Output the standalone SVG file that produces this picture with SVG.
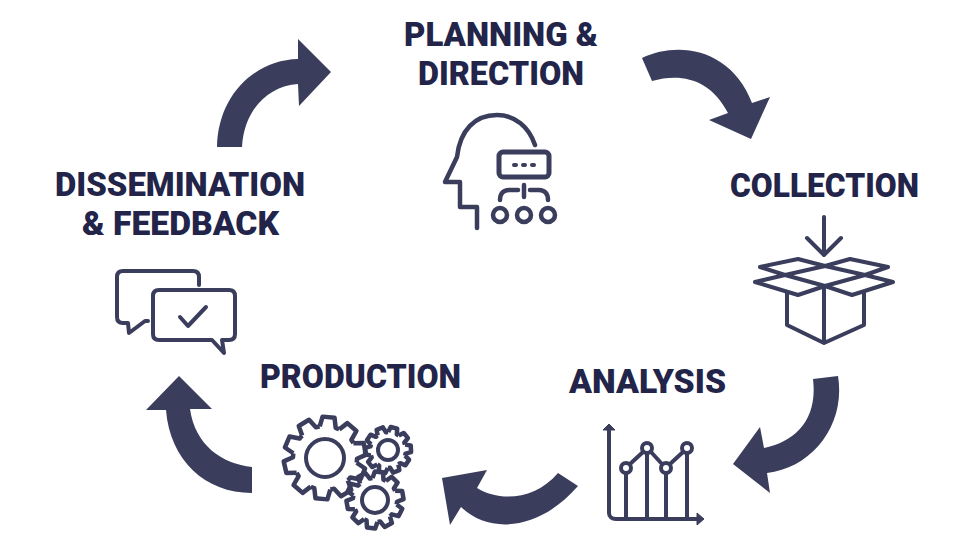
<svg xmlns="http://www.w3.org/2000/svg" width="960" height="540" viewBox="0 0 960 540">
<style>
.t{font-family:"Roboto","Liberation Sans",sans-serif;font-weight:900;font-size:33px;fill:#23244a}
.i{fill:none;stroke:#3a3d5c;stroke-width:4px;stroke-linecap:round;stroke-linejoin:round}
.g{fill:none;stroke:#3a3d5c;stroke-width:4.5px;stroke-linejoin:round;vector-effect:non-scaling-stroke}
.a{fill:#3a3d5c}
</style>
<defs>
<path id="tooth" class="g" d="M-8-31L-6-41L6-41L8-31A32 32 0 0 1 11.7-29.8"/>
<g id="gear">
<use href="#tooth"/><use href="#tooth" transform="rotate(36)"/><use href="#tooth" transform="rotate(72)"/><use href="#tooth" transform="rotate(108)"/><use href="#tooth" transform="rotate(144)"/><use href="#tooth" transform="rotate(180)"/><use href="#tooth" transform="rotate(216)"/><use href="#tooth" transform="rotate(252)"/><use href="#tooth" transform="rotate(288)"/><use href="#tooth" transform="rotate(324)"/>
</g>
</defs>
<rect width="960" height="540" fill="#fff"/>
<g id="connectors">
<path class="a" d="M217 147C218 95 255 60 298 59V39L331 72L299 106L298 84C268 86 244 110 242 147Z"/>
<path class="a" d="M642 58C680 40 732 50 752 103L770 97L751 139L709 120L728 113C710 78 680 73 652 81Z"/>
<path class="a" d="M838 376C846 425 812 468 767 473L770 493L733 464L760 427L764 448C795 442 818 420 813 379Z"/>
<path class="a" d="M578 486C540 530 490 535 461 507L450 525L442 478L487 470L477 488C500 502 535 500 558 473Z"/>
<path class="a" d="M252 467C222 464 195 445 190 409H212L179 376L146 410H166C170 460 205 493 252 493Z"/>
</g>
<g id="planning">
<text class="t" x="404" y="46" textLength="194" lengthAdjust="spacingAndGlyphs">PLANNING &amp;</text>
<text class="t" x="418" y="85" textLength="166" lengthAdjust="spacingAndGlyphs">DIRECTION</text>
<path class="i" style="stroke-width:4.5px" d="M477 228V207H460V182H445L457 157C460 130 475 115 497 115C515 115 529 127 535 145"/>
<rect class="i" style="stroke-width:5px" x="499" y="152" width="50" height="25" rx="4"/>
<path class="i" style="stroke-width:4.5px" d="M524 185V197M518 190H509C503 190 500 194 500 200M530 190H539C545 190 548 194 548 200"/>
<circle class="i" style="stroke-width:4.5px" cx="500" cy="215" r="7"/><circle class="i" style="stroke-width:4.5px" cx="524" cy="215" r="7"/><circle class="i" style="stroke-width:4.5px" cx="548" cy="215" r="7"/>
<path class="i" d="M514 165h2M523 165h2M532 165h2"/>
</g>
<g id="collection">
<text class="t" x="730" y="197" textLength="189" lengthAdjust="spacingAndGlyphs">COLLECTION</text>
<path class="i" d="M824 217V255M807 238L824 255L841 238"/>
<path class="i" d="M825 266L785 275L825 286L865 275ZM825 266L798 259L760 267L785 275M825 266L850 259L888 267L865 275M785 275L755 282L798 295L825 286L852 295L893 282L865 275"/>
<path class="i" d="M787 292V325L824 343L864 325V292M824 286V343"/>
</g>
<g id="analysis">
<text class="t" x="569" y="393" textLength="157" lengthAdjust="spacingAndGlyphs">ANALYSIS</text>
<path class="i" d="M609 428V513C609 517 612 519 616 519H698"/>
<path class="a" d="M603 430L609 424L615 430ZM697 513L704 519L697 525Z" stroke="#3a3d5c" stroke-width="1"/>
<path class="i" d="M626 474V519M647 454V519M666 474V519M687 454V519M630 464L643 452M651 452L662 464M670 464L683 452"/>
<circle class="i" cx="626" cy="468" r="5"/><circle class="i" cx="647" cy="448" r="5"/><circle class="i" cx="666" cy="468" r="5"/><circle class="i" cx="687" cy="448" r="5"/>
</g>
<g id="production">
<text class="t" x="260" y="388" textLength="201" lengthAdjust="spacingAndGlyphs">PRODUCTION</text>
<use href="#gear" transform="translate(325 458) rotate(5)"/>
<circle class="i" cx="325" cy="458" r="19"/>
<use href="#gear" transform="translate(388 450) scale(.56) rotate(15)"/>
<circle class="i" cx="388" cy="450" r="10"/>
<circle cx="375" cy="500" r="23" fill="#fff"/>
<use href="#gear" transform="translate(375 500) scale(.69) rotate(8)"/>
<circle class="i" cx="375" cy="500" r="13"/>
</g>
<g id="dissemination">
<text class="t" x="55" y="196" textLength="250" lengthAdjust="spacingAndGlyphs">DISSEMINATION</text>
<text class="t" x="82" y="235" textLength="197" lengthAdjust="spacingAndGlyphs">&amp; FEEDBACK</text>
<path class="i" d="M199 285V277C199 273 197 271 193 271H123C119 271 117 273 117 277V317C117 321 119 323 123 323H128L129 333L145 321H148"/>
<path class="i" d="M159 290H229C233 290 235 292 235 296V334C235 338 233 340 229 340H222L224 353L212 340H159C155 340 153 338 153 334V296C153 292 155 290 159 290Z"/>
<path class="i" d="M180 317L188 326L206 307"/>
</g>
</svg>
